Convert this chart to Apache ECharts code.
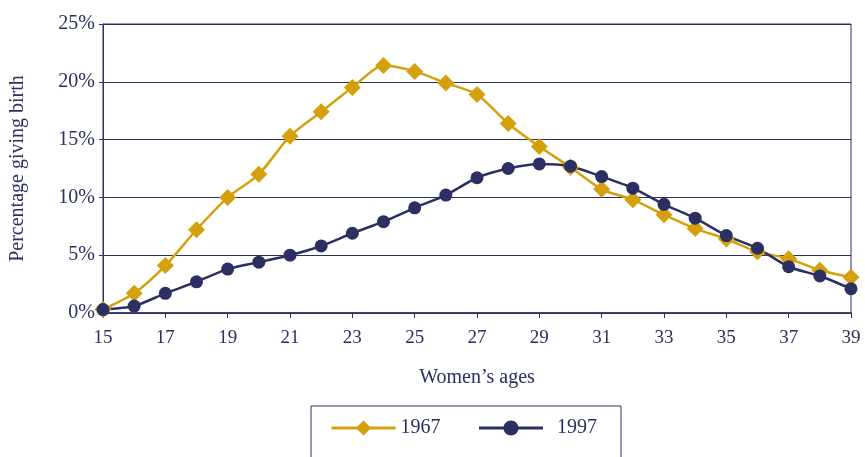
<!DOCTYPE html>
<html><head><meta charset="utf-8">
<script src="https://cdn.jsdelivr.net/npm/echarts@6/dist/echarts.min.js"></script>
<style>html,body{margin:0;padding:0;background:#fff}#c{width:865px;height:457px}</style>
</head><body><div id="c"></div>
<script>
const ages = ['15','16','17','18','19','20','21','22','23','24','25','26','27','28','29','30','31','32','33','34','35','36','37','38','39'];
const y1967 = [0.3,1.7,4.1,7.2,10.0,12.0,15.3,17.4,19.5,21.4,20.9,19.9,18.9,16.4,14.4,12.6,10.7,9.8,8.5,7.3,6.4,5.3,4.7,3.7,3.1];
const y1997 = [0.3,0.6,1.7,2.7,3.8,4.4,5.0,5.8,6.9,7.9,9.1,10.2,11.7,12.5,12.9,12.7,11.8,10.8,9.4,8.2,6.7,5.6,4.0,3.2,2.1];
const yTicks = [0,5,10,15,20,25];
const seriesNames = ['1967','1997'];

const navy = '#2b2f62';
const gold = '#d4a00c';
const font = 'Liberation Serif';
const chart = echarts.init(document.getElementById('c'), null, {renderer:'canvas'});
chart.setOption({
  animation:false,
  grid:{left:101,right:14,top:24,bottom:144,show:true,borderColor:navy,borderWidth:1,backgroundColor:'transparent'},
  xAxis:{type:'category',data:ages,boundaryGap:false,
    name:'Women\u2019s ages',nameLocation:'middle',nameGap:55,
    nameTextStyle:{fontFamily:font,fontSize:20,color:navy},
    axisLine:{lineStyle:{color:navy,width:1.5}},
    axisTick:{show:true,interval:1,length:5,lineStyle:{color:navy}},
    axisLabel:{interval:1,margin:16,fontFamily:font,fontSize:19,color:navy},
    splitLine:{show:false}},
  yAxis:{type:'value',min:yTicks[0],max:yTicks[yTicks.length-1],interval:5,
    name:'Percentage giving birth',nameLocation:'middle',nameGap:75,
    nameTextStyle:{fontFamily:font,fontSize:20,color:navy},
    axisLine:{show:true,lineStyle:{color:navy,width:1}},
    axisTick:{show:true,length:4,lineStyle:{color:navy}},
    axisLabel:{formatter:'{value}%',margin:8,fontFamily:font,fontSize:20,color:navy},
    splitLine:{show:true,lineStyle:{color:navy,width:1}}},
  legend:{left:311,top:406,itemWidth:64,itemHeight:19,itemGap:37,
    padding:[12,24,40,19],borderColor:navy,borderWidth:1,
    lineStyle:{width:3},
    textStyle:{fontFamily:font,fontSize:20,color:navy},
    data:[{name:seriesNames[0]},{name:seriesNames[1],textStyle:{padding:[0,0,0,9]}}]},
  series:[
    {name:seriesNames[0],type:'line',data:y1967,smooth:0.25,symbol:'diamond',symbolSize:17,
      lineStyle:{color:gold,width:2.5},itemStyle:{color:gold}},
    {name:seriesNames[1],type:'line',data:y1997,smooth:0.25,symbol:'circle',symbolSize:13,
      lineStyle:{color:navy,width:2.5},itemStyle:{color:navy}}
  ]
});
</script></body></html>
